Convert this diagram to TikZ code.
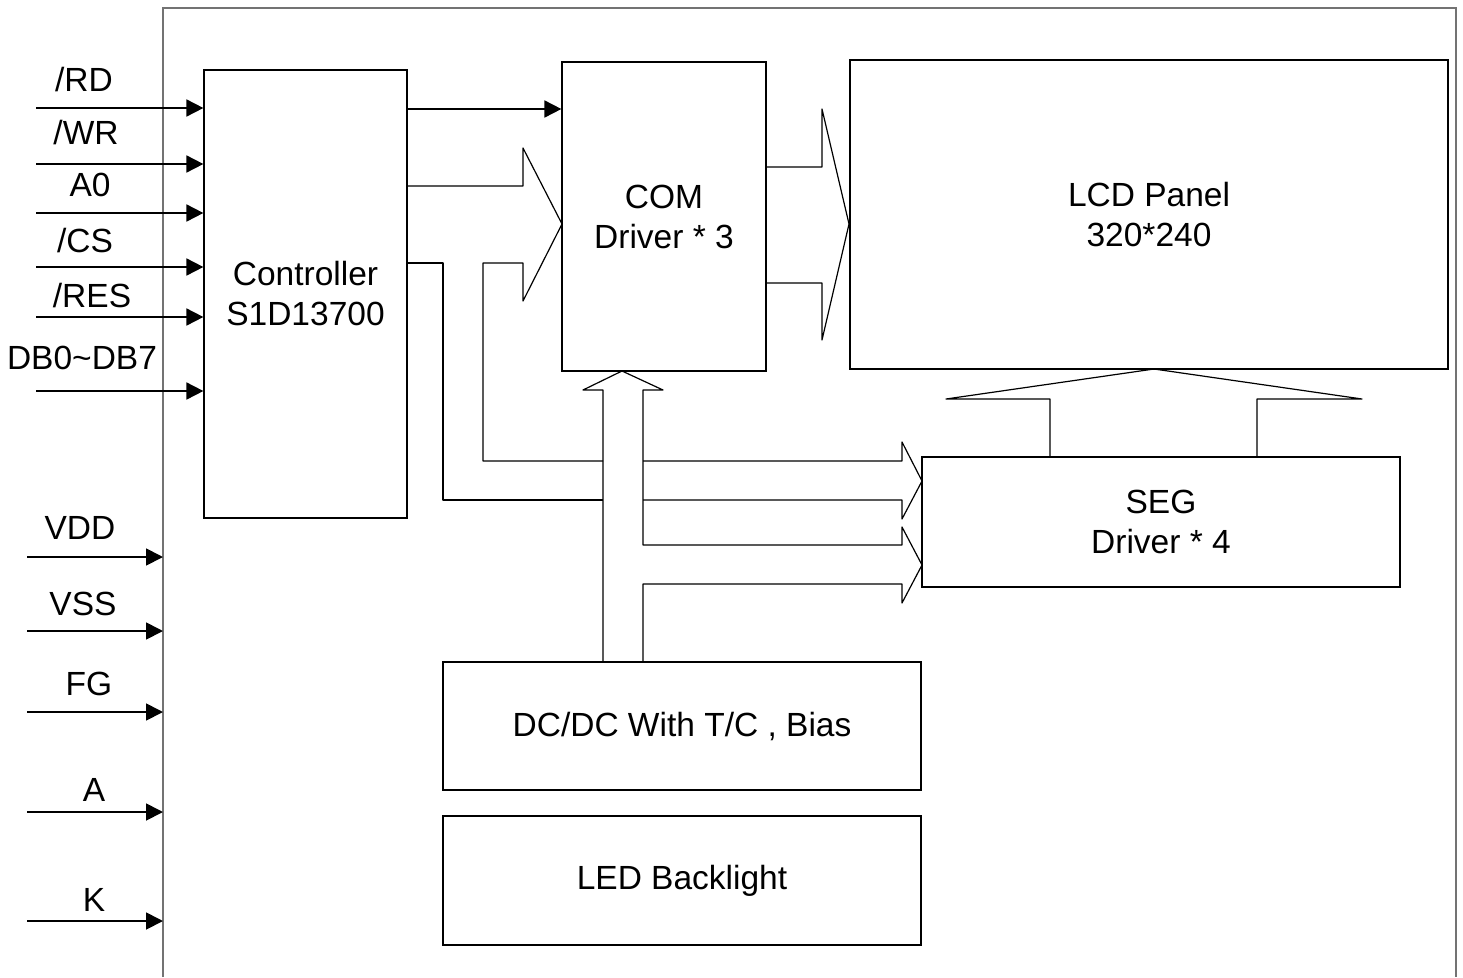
\documentclass[tikz,border=0pt]{standalone}
\usepackage{fontspec}
\setmainfont{Liberation Sans}
\usetikzlibrary{arrows.meta}
\begin{document}
\begin{tikzpicture}[x=1pt,y=-1pt,
  box/.style={draw=black, line width=1.2pt, inner sep=0pt, align=center, font=\fontsize{33.5}{40}\selectfont},
  lbl/.style={inner sep=0pt, font=\fontsize{33.5}{40}\selectfont},
  sig/.style={line width=1.8pt, -{Triangle[length=17pt,width=17pt]}},
  bus/.style={line width=1.2pt, line join=round},
  frame/.style={line width=2pt, draw=black!55}]
\useasboundingbox (0,0) rectangle (1463,977);
% outer frame
\coordinate (frameL) at (163,8);
\draw[frame] (163,977) -- (frameL) -- (1456,8) -- (1456,977);
% boxes
\node[box, minimum width=203pt, minimum height=448pt] (ctrl) at (305.5,294) {Controller\\S1D13700};
\node[box, minimum width=204pt, minimum height=309pt] (com) at (664,216.5) {COM\\Driver * 3};
\node[box, minimum width=598pt, minimum height=309pt] (lcd) at (1149,214.5) {LCD Panel\\320*240};
\node[box, minimum width=478pt, minimum height=130pt] (seg) at (1161,522) {SEG\\Driver * 4};
\node[box, minimum width=478pt, minimum height=128pt] (dcdc) at (682,726) {DC/DC With T/C , Bias};
\node[box, minimum width=478pt, minimum height=129pt] (led) at (682,880.5) {LED Backlight};
% controller inputs
\coordinate (iRD) at (36,108);
\coordinate (iWR) at (36,164);
\coordinate (iA0) at (36,213);
\coordinate (iCS) at (36,267);
\coordinate (iRES) at (36,317);
\coordinate (iDB) at (36,391);
\draw[sig] (iRD) -- (iRD -| ctrl.west);
\draw[sig] (iWR) -- (iWR -| ctrl.west);
\draw[sig] (iA0) -- (iA0 -| ctrl.west);
\draw[sig] (iCS) -- (iCS -| ctrl.west);
\draw[sig] (iRES) -- (iRES -| ctrl.west);
\draw[sig] (iDB) -- (iDB -| ctrl.west);
\node[lbl] (tRD) at (84,80) {/RD};
\node[lbl] (tWR) at (86,133) {/WR};
\node[lbl] (tA0) at (90,185) {A0};
\node[lbl] (tCS) at (85,241) {/CS};
\node[lbl] (tRES) at (92,296) {/RES};
\node[lbl] (tDB) at (82,358) {DB0\textasciitilde DB7};
% power inputs
\coordinate (iVDD) at (27,557);
\coordinate (iVSS) at (27,631);
\coordinate (iFG) at (27,712);
\coordinate (iA) at (27,812);
\coordinate (iK) at (27,921);
\draw[sig] (iVDD) -- (iVDD -| frameL);
\draw[sig] (iVSS) -- (iVSS -| frameL);
\draw[sig] (iFG) -- (iFG -| frameL);
\draw[sig] (iA) -- (iA -| frameL);
\draw[sig] (iK) -- (iK -| frameL);
\node[lbl] (tVDD) at (80,528) {VDD};
\node[lbl] (tVSS) at (83,604) {VSS};
\node[lbl] (tFG) at (89,684) {FG};
\node[lbl] (tA) at (94,790) {A};
\node[lbl] (tK) at (94,900) {K};
% controller -> COM signal
\coordinate (cc) at (0,109);
\draw[sig] (ctrl.east |- cc) -- (com.west |- cc);
% hollow bus arrows
\draw[bus] (407,186) -- (523,186) -- (523,148) -- (562,224) -- (523,301) -- (523,263) -- (483,263) -- (483,461) -- (603,461);
\draw[bus] (407,263) -- (443,263) -- (443,500) -- (603,500);
\draw[bus] (643,461) -- (902,461) -- (902,442) -- (922,481) -- (902,519) -- (902,500) -- (643,500);
\draw[bus] (603,662) -- (603,390) -- (583,390) -- (622,371) -- (663,390) -- (643,390) -- (643,545) -- (902,545) -- (902,527) -- (922,565) -- (902,603) -- (902,584) -- (643,584) -- (643,662);
\draw[bus] (766,167) -- (822,167) -- (822,109) -- (849,224) -- (822,340) -- (822,283) -- (766,283);
\draw[bus] (1050,457) -- (1050,399) -- (946,399) -- (1154,369) -- (1362,399) -- (1257,399) -- (1257,457);
\end{tikzpicture}
\end{document}
